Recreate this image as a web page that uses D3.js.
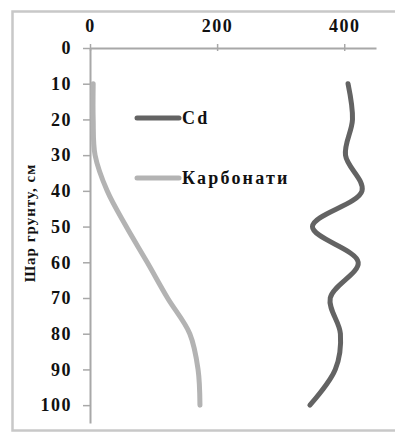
<!DOCTYPE html>
<html>
<head>
<meta charset="utf-8">
<script src="https://cdn.jsdelivr.net/npm/d3@7"></script>
<style>
  html, body { margin: 0; padding: 0; background: #fff; }
  svg { display: block; }
  text { font-family: "Liberation Serif", "Times New Roman", serif; font-weight: bold; fill: #111; }
</style>
</head>
<body>
<svg id="chart" width="395" height="432"></svg>
<script>
// Soil depth, cm (one reading every 10 cm)
const depths = [10, 20, 30, 40, 50, 60, 70, 80, 90, 100];
// Cd content by depth
const cdValues = [406, 413, 402, 428, 350, 422, 378, 394, 386, 346];
// Carbonate content by depth
const carbonateValues = [5, 5, 8, 27, 57, 90, 122, 157, 170, 173];

const seriesNames = ["Cd", "Карбонати"];
const xTicks = [0, 200, 400];
const yTicks = [0, 10, 20, 30, 40, 50, 60, 70, 80, 90, 100];
const yTitle = "Шар грунту, см";

const svg = d3.select("#chart");

// outer chart frame
svg.append("rect")
  .attr("x", 12.5).attr("y", 11.5)
  .attr("width", 400).attr("height", 419)
  .attr("fill", "none").attr("stroke", "#c8c8c8").attr("stroke-width", 2.5);

const x = d3.scaleLinear().domain([0, 450]).range([90, 376]);
const y = d3.scaleLinear().domain([0, 105]).range([48, 423]);

// top value axis
const xAxis = svg.append("g")
  .attr("transform", `translate(0,${y(0)})`)
  .call(d3.axisTop(x).tickValues(xTicks).tickSize(4).tickSizeOuter(0).tickFormat(d3.format("d")));
xAxis.selectAll(".tick line").attr("y2", 3).attr("y1", -4);
xAxis.selectAll(".tick text").attr("y", -16).attr("font-size", 18).attr("letter-spacing", 1.5);

// depth axis
const yAxis = svg.append("g")
  .attr("transform", `translate(${x(0)},0)`)
  .call(d3.axisLeft(y).tickValues(yTicks).tickSize(7).tickSizeOuter(0).tickFormat(d3.format("d")));
yAxis.selectAll(".tick text").attr("x", -18).attr("font-size", 18).attr("letter-spacing", 1.5);

[xAxis, yAxis].forEach(g => {
  g.select(".domain").attr("stroke", "#a8a8a8").attr("stroke-width", 2);
  g.selectAll(".tick line").attr("stroke", "#a8a8a8").attr("stroke-width", 1.5);
  g.selectAll(".tick text").attr("font-family", "Liberation Serif").attr("font-weight", "bold").attr("fill", "#111");
});

// axis title
svg.append("text")
  .attr("transform", "translate(35,223) rotate(-90)")
  .attr("text-anchor", "middle")
  .attr("font-size", 15)
  .attr("letter-spacing", 1)
  .text(yTitle);

const line = d3.line()
  .x(d => x(d[0]))
  .y(d => y(d[1]))
  .curve(d3.curveCatmullRom.alpha(0.5));

const series = [
  { name: seriesNames[0], values: cdValues, color: "#636363" },
  { name: seriesNames[1], values: carbonateValues, color: "#b3b3b3" }
];

series.forEach(s => {
  svg.append("path")
    .datum(s.values.map((v, i) => [v, depths[i]]))
    .attr("d", line)
    .attr("fill", "none")
    .attr("stroke", s.color)
    .attr("stroke-width", 5)
    .attr("stroke-linecap", "round")
    .attr("stroke-linejoin", "round");
});

// legend
const legend = svg.append("g");
series.forEach((s, i) => {
  const ly = 118 + i * 60;
  legend.append("line")
    .attr("x1", 137).attr("x2", 179)
    .attr("y1", ly).attr("y2", ly)
    .attr("stroke", s.color).attr("stroke-width", 5)
    .attr("stroke-linecap", "round");
  legend.append("text")
    .attr("x", 182).attr("y", ly + 6)
    .attr("font-size", 18)
    .attr("letter-spacing", 2.2)
    .text(s.name);
});
</script>
</body>
</html>
